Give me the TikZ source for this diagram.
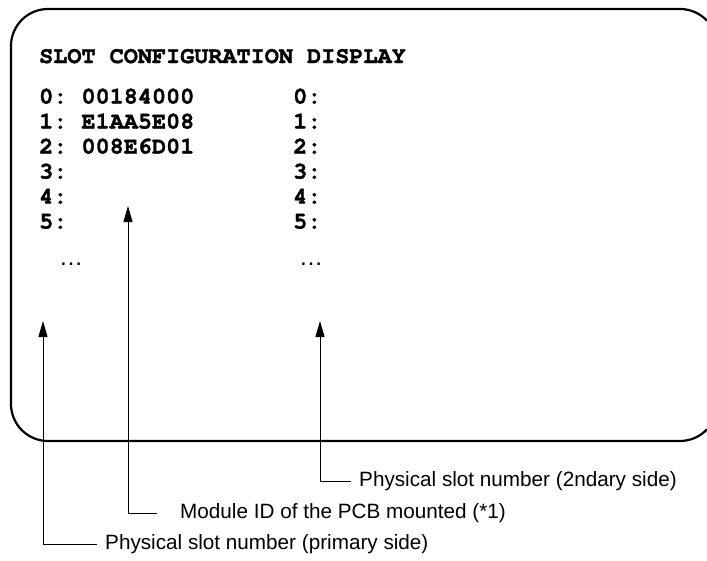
\documentclass[tikz,border=0pt]{standalone}
\usepackage[T1]{fontenc}
\usepackage{fontspec}
\setmainfont{Liberation Sans}
\usetikzlibrary{arrows.meta}
\newcommand{\crfont}{\fontencoding{T1}\fontfamily{pcr}\fontseries{b}\fontshape{n}\selectfont\frenchspacing}
\newcommand{\heavy}[1]{\special{pdf:literal direct 2 Tr 0.35 w}#1\special{pdf:literal direct 0 Tr}}
\tikzset{
  mono/.style={font=\crfont\fontsize{23.5}{28}\selectfont, anchor=base west, inner sep=0pt},
  lab/.style={font=\fontsize{20.7}{24}\selectfont, anchor=west, inner sep=0pt},
  dotsn/.style={font=\fontsize{24}{28}\selectfont, anchor=base, inner sep=0pt},
  arr/.style={line width=1pt, -{Triangle[length=16pt,width=9pt]}},
  frame/.style={line width=2.2pt}
}
\begin{document}
\begin{tikzpicture}[x=1pt,y=-1pt]
\useasboundingbox (0,0) rectangle (707,560);
\draw[frame] (707,20.7) arc[start angle=-43.1, end angle=-90, radius=37]
  [rounded corners=37pt] -- (11,9) -- (11,441) [sharp corners] -- (680,441)
  arc[start angle=90, end angle=43.1, radius=37];
\node[mono] (title) at (39,63) {\heavy{SLOT CONFIGURATION DISPLAY}};
\node[mono] (a0) at (39,103.5) {\heavy{0: 00184000}};
\node[mono] (a1) at (39,128.5) {\heavy{1: E1AA5E08}};
\node[mono] (a2) at (39,153.5) {\heavy{2: 008E6D01}};
\node[mono] (a3) at (39,178.5) {\heavy{3:}};
\node[mono] (a4) at (39,203.5) {\heavy{4:}};
\node[mono] (a5) at (39,228.5) {\heavy{5:}};
\node[mono] (b0) at (293,103.5) {\heavy{0:}};
\node[mono] (b1) at (293,128.5) {\heavy{1:}};
\node[mono] (b2) at (293,153.5) {\heavy{2:}};
\node[mono] (b3) at (293,178.5) {\heavy{3:}};
\node[mono] (b4) at (293,203.5) {\heavy{4:}};
\node[mono] (b5) at (293,228.5) {\heavy{5:}};
\node[dotsn] (d1) at (71,265) {…};
\node[dotsn] (d2) at (311,265) {…};
\coordinate (t1) at (43,321);
\coordinate (t2) at (128,206);
\coordinate (t3) at (320,321);
\node[lab] (l3) at (359,481) {Physical slot number (2ndary side)};
\node[lab] (l2) at (180,513) {Module ID of the PCB mounted (*1)};
\node[lab] (l1) at (105,544) {Physical slot number (primary side)};
\draw[arr] ([xshift=-8pt]l3.west) -| (t3);
\draw[arr] ([xshift=-23pt]l2.west) -| (t2);
\draw[arr] ([xshift=-8pt]l1.west) -| (t1);
\end{tikzpicture}
\end{document}
